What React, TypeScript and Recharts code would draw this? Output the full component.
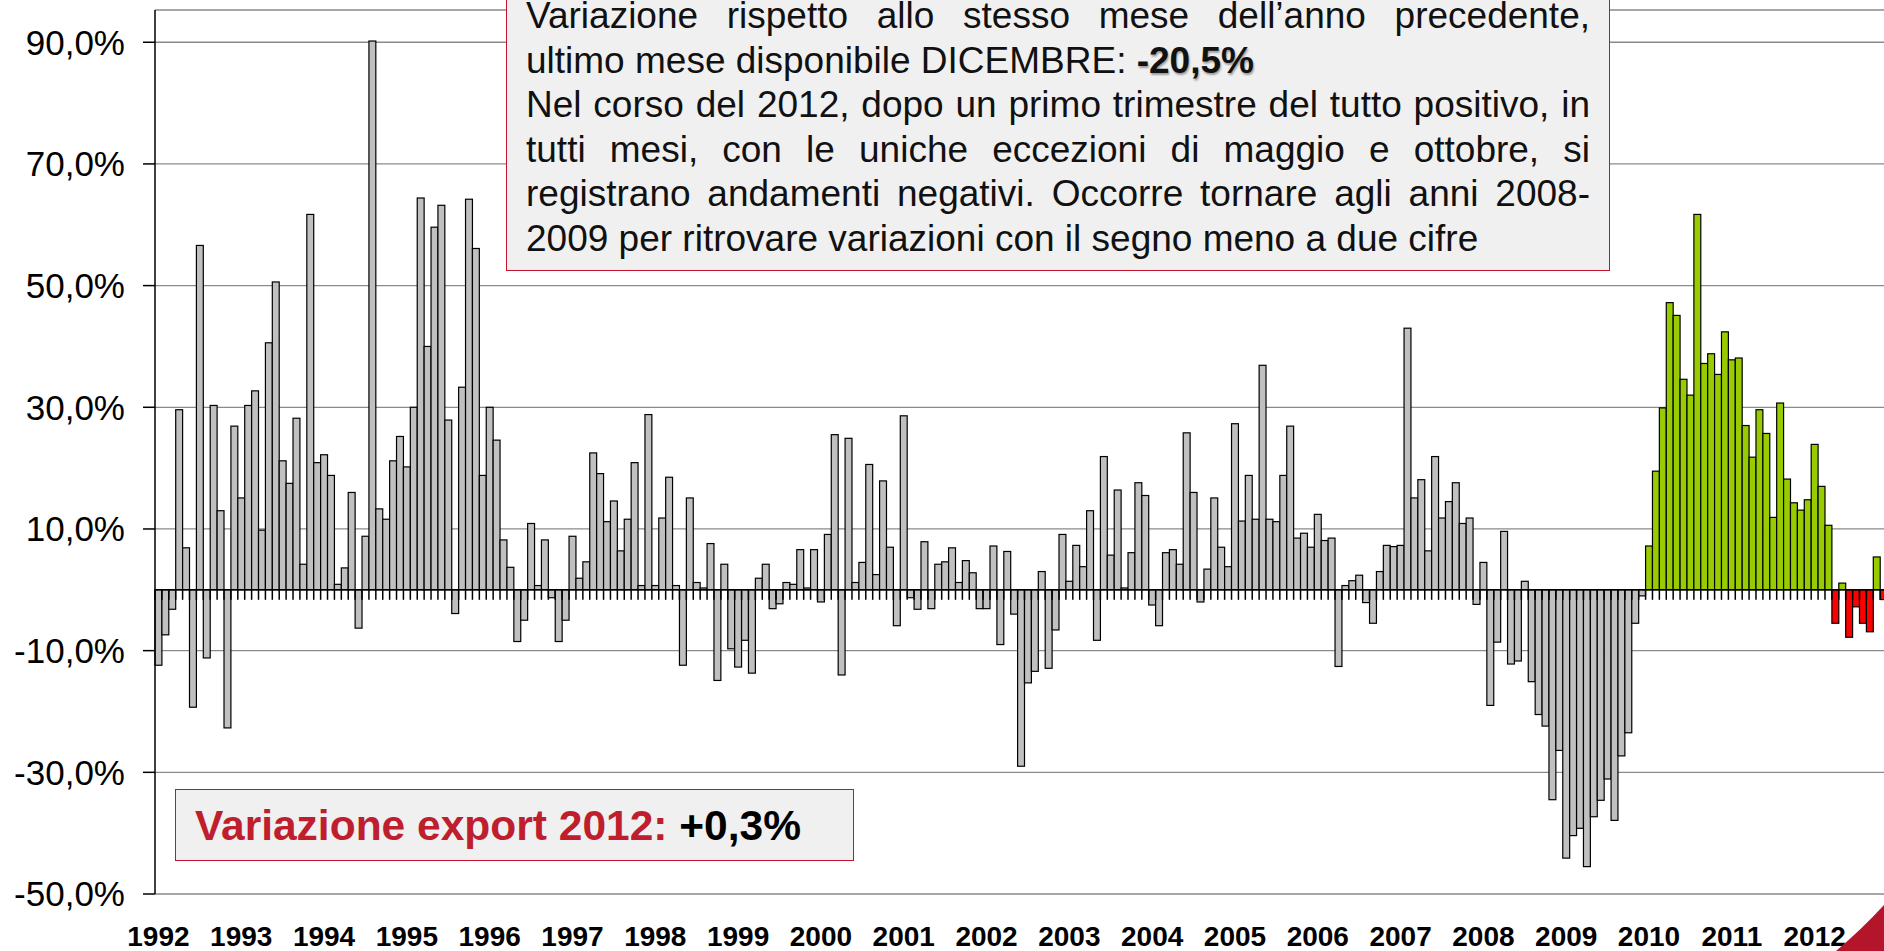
import { BarChart, Bar, XAxis, YAxis, CartesianGrid, ReferenceLine, Cell } from "recharts"

// monthly year-on-year change, %
const YEARS = [1992, 1993, 1994, 1995, 1996, 1997, 1998, 1999, 2000, 2001, 2002, 2003, 2004, 2005, 2006, 2007, 2008, 2009, 2010, 2011, 2012]
const V1992 = [-12.4, -7.4, -3.2, 29.6, 6.9, -19.3, 56.6, -11.2, 30.3, 13.0, -22.7, 26.9]
const V1993 = [15.1, 30.3, 32.7, 9.8, 40.6, 50.6, 21.2, 17.5, 28.2, 4.2, 61.7, 20.9]
const V1994 = [22.2, 18.8, 0.9, 3.6, 16.0, -6.3, 8.8, 90.2, 13.3, 11.6, 21.2, 25.2]
const V1995 = [20.2, 30.0, 64.4, 40.0, 59.6, 63.2, 27.9, -3.9, 33.3, 64.2, 56.1, 18.8]
const V1996 = [30.0, 24.6, 8.2, 3.7, -8.5, -5.0, 10.9, 0.7, 8.2, -1.3, -8.5, -5.0]
const V1997 = [8.8, 1.9, 4.6, 22.5, 19.1, 11.2, 14.6, 6.4, 11.6, 20.9, 0.7, 28.8]
const V1998 = [0.7, 11.8, 18.5, 0.7, -12.4, 15.1, 1.2, 0.3, 7.6, -14.9, 4.2, -9.7]
const V1999 = [-12.7, -8.3, -13.7, 1.9, 4.2, -3.1, -2.3, 1.2, 0.9, 6.6, 0.3, 6.6]
const V2000 = [-2.0, 9.1, 25.5, -14.0, 24.9, 1.2, 4.5, 20.6, 2.5, 17.9, 7.0, -5.9]
const V2001 = [28.6, -1.3, -3.2, 7.9, -3.1, 4.2, 4.6, 6.9, 1.2, 4.8, 2.8, -3.1]
const V2002 = [-3.1, 7.2, -9.0, 6.3, -4.0, -29.0, -15.3, -13.4, 3.0, -12.9, -6.6, 9.1]
const V2003 = [1.4, 7.3, 3.8, 13.0, -8.3, 21.9, 5.7, 16.4, 0.3, 6.1, 17.6, 15.5]
const V2004 = [-2.5, -5.9, 6.1, 6.6, 4.2, 25.8, 16.0, -2.0, 3.4, 15.1, 7.0, 3.8]
const V2005 = [27.3, 11.3, 18.8, 11.6, 36.9, 11.6, 11.2, 18.8, 26.9, 8.5, 9.3, 7.0]
const V2006 = [12.4, 8.1, 8.5, -12.6, 0.7, 1.5, 2.4, -2.1, -5.5, 3.0, 7.3, 7.1]
const V2007 = [7.3, 43.0, 15.1, 18.1, 6.4, 21.9, 11.8, 14.5, 17.6, 10.9, 11.8, -2.4]
const V2008 = [4.5, -19.0, -8.6, 9.6, -12.2, -11.7, 1.4, -15.1, -20.5, -22.4, -34.5, -26.4]
const V2009 = [-44.1, -40.4, -39.2, -45.5, -37.3, -34.6, -31.1, -37.9, -27.3, -23.5, -5.5, -1.0]
const V2010 = [7.2, 19.5, 29.9, 47.2, 45.1, 34.6, 32.0, 61.7, 37.2, 38.8, 35.4, 42.4]
const V2011 = [37.8, 38.1, 27.0, 21.8, 29.6, 25.7, 11.9, 30.7, 18.2, 14.3, 13.1, 14.8]
const V2012 = [23.9, 17.0, 10.6, -5.5, 1.1, -7.8, -2.8, -5.5, -6.9, 5.4, -1.6, -20.5]

const VALUES_BY_YEAR = [
  V1992, V1993, V1994, V1995, V1996, V1997, V1998, V1999, V2000, V2001, V2002,
  V2003, V2004, V2005, V2006, V2007, V2008, V2009, V2010, V2011, V2012,
]
const Y_TICKS = [-50, -30, -10, 10, 30, 50, 70, 90]

const data = YEARS.flatMap((year, yi) =>
  VALUES_BY_YEAR[yi].map((value, m) => ({
    month: `${year}-${String(m + 1).padStart(2, "0")}`,
    year,
    value,
  }))
)

const FONT = "'Liberation Sans', Arial, sans-serif"
const CRIMSON = "#C4122F"
const CHART_W = 1894
const CHART_H = 951
const AXIS_W = 155
const BAND = (CHART_W - AXIS_W) / data.length

const barColor = (d: { year: number; value: number }) => {
  if (d.year < 2010) return "#C0C0C0"
  return d.value >= 0 ? "#99CC00" : "#FF0000"
}

// bar filling the whole month slot + small tick under the zero line
function MonthBar(props: any) {
  const { x, y, height, fill, payload } = props
  const top = Math.min(y, y + height)
  const bottom = Math.max(y, y + height)
  const zero = payload.value >= 0 ? bottom : top
  return (
    <g>
      <rect x={x} y={top} width={BAND} height={Math.max(bottom - top, 0.5)} fill={fill} stroke="#000" strokeWidth={1.2} />
      <line x1={x} x2={x} y1={zero} y2={zero + 10} stroke="#000" strokeWidth={1.5} />
    </g>
  )
}

const justified = { textAlign: "justify" as const, textAlignLast: "justify" as const }

export default function App() {
  return (
    <div
      style={{
        position: "absolute",
        left: 0,
        top: 0,
        width: 1884,
        height: 951,
        overflow: "hidden",
        background: "#fff",
        fontFamily: FONT,
      }}
    >
      <style>{"body{margin:0;overflow:hidden}"}</style>
      <BarChart
        width={CHART_W}
        height={CHART_H}
        data={data}
        margin={{ top: 10, right: 0, bottom: 0, left: 0 }}
        barCategoryGap={0}
        barGap={0}
      >
        <CartesianGrid vertical={false} stroke="#8a8a8a" strokeWidth={1.3} />
        <XAxis
          dataKey="month"
          interval={0}
          axisLine={false}
          tickLine={false}
          tickSize={0}
          tickMargin={32}
          height={57}
          tick={{ fontSize: 28, fontWeight: "bold", fill: "#000" }}
          tickFormatter={(m: string) => (m.endsWith("-01") ? m.slice(0, 4) : "")}
        />
        <YAxis
          width={AXIS_W}
          domain={[-50, 95.3]}
          ticks={Y_TICKS}
          allowDataOverflow
          tickSize={12}
          tickMargin={18}
          axisLine={{ stroke: "#000", strokeWidth: 1.5 }}
          tickLine={{ stroke: "#000", strokeWidth: 1.5 }}
          tick={{ fontSize: 35, fill: "#000" }}
          tickFormatter={(v: number) => `${v.toFixed(1).replace(".", ",")}%`}
        />
        <Bar dataKey="value" isAnimationActive={false} shape={<MonthBar />}>
          {data.map((d) => (
            <Cell key={d.month} fill={barColor(d)} />
          ))}
        </Bar>
        <ReferenceLine y={0} stroke="#000" strokeWidth={1.5} />
      </BarChart>

      {/* comment box */}
      <div
        style={{
          position: "absolute",
          left: 506,
          top: -30,
          width: 1104,
          height: 301,
          boxSizing: "border-box",
          background: "#F0F0F0",
          border: `1.5px solid ${CRIMSON}`,
        }}
      />
      <div
        style={{
          position: "absolute",
          left: 526,
          top: -5.6,
          width: 1064,
          fontSize: 37,
          lineHeight: "44.5px",
          color: "#111",
          whiteSpace: "nowrap",
        }}
      >
        <div style={justified}>Variazione rispetto allo stesso mese dell’anno precedente,</div>
        <div>
          ultimo mese disponibile DICEMBRE:{" "}
          <b style={{ textShadow: "1px 2px 2px rgba(0,0,0,0.35)" }}>-20,5%</b>
        </div>
        <div style={justified}>Nel corso del 2012, dopo un primo trimestre del tutto positivo, in</div>
        <div style={justified}>tutti mesi, con le uniche eccezioni di maggio e ottobre, si</div>
        <div style={justified}>registrano andamenti negativi. Occorre tornare agli anni 2008-</div>
        <div>2009 per ritrovare variazioni con il segno meno a due cifre</div>
      </div>

      {/* annual total box */}
      <div
        style={{
          position: "absolute",
          left: 175,
          top: 789,
          width: 679,
          height: 72,
          boxSizing: "border-box",
          background: "#F0F0F0",
          border: `1.5px solid ${CRIMSON}`,
        }}
      />
      <div
        style={{
          position: "absolute",
          left: 195,
          top: 804.5,
          fontSize: 42.5,
          lineHeight: 1,
          fontWeight: "bold",
          whiteSpace: "nowrap",
        }}
      >
        <span style={{ color: "#BE1E2D" }}>Variazione export 2012:</span>{" "}
        <span style={{ color: "#000" }}>+0,3%</span>
      </div>

      <svg width={1884} height={951} style={{ position: "absolute", left: 0, top: 0, pointerEvents: "none" }}>
        <path d="M1836 951 Q1862 929 1884 905 L1884 951 Z" fill="#B5152B" />
      </svg>
    </div>
  )
}
